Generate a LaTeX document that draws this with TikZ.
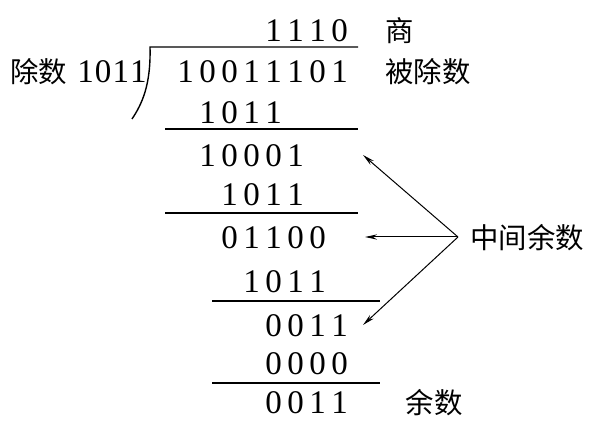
\documentclass[tikz,border=0pt]{standalone}
\usepackage{fontspec}
\setmainfont{Liberation Serif}
\newfontfamily\cjk{Noto Sans CJK SC}
\usetikzlibrary{arrows.meta}
% fixed pitch for the binary digits
\newlength\bitw
\setlength\bitw{11pt}
\newcommand{\bits}[1]{\bitsnext#1\relax}
\newcommand{\bitsnext}[1]{\ifx\relax#1\else\makebox[\bitw][l]{#1}\expandafter\bitsnext\fi}

\begin{document}
\begin{tikzpicture}[x=0.5pt, y=-0.5pt, >={Stealth[length=6pt,width=2.6pt]},
      num/.style={anchor=west, inner sep=0pt, font=\fontsize{16.5}{18}\selectfont},
      lab/.style={inner sep=0pt, font=\fontsize{14.2}{16}\selectfont\cjk},
      rule/.style={line width=0.7pt}]
    \useasboundingbox (0,0) rectangle (599,427);
    % columns: first digit at 177, pitch 22
    \node[num] (quo)  at ({177+4*22},31)  {\bits{1110}};
    \node[num] (dvd)  at (177,72)         {\bits{10011101}};
    \node[num] (sub1) at ({177+1*22},113) {\bits{1011}};
    \node[num] (rem1) at ({177+1*22},156) {\bits{10001}};
    \node[num] (sub2) at ({177+2*22},195) {\bits{1011}};
    \node[num] (rem2) at ({177+2*22},238) {\bits{01100}};
    \node[num] (sub3) at ({177+3*22},282) {\bits{1011}};
    \node[num] (rem3) at ({177+4*22},326) {\bits{0011}};
    \node[num] (sub4) at ({177+4*22},364) {\bits{0000}};
    \node[num] (rem4) at ({177+4*22},403) {\bits{0011}};
    \node[lab] (dsr)  at (39,72)  {除数};
    \node[num] (dsrn) at (77,72)  {\setlength\bitw{8.8pt}\bits{1011}};
    \node[lab] (shang) at (400,31)  {商};
    \node[lab] (bcs)   at (428,72)  {被除数};
    \node[lab] (ys)    at (434,403) {余数};
    \node[lab, anchor=west] (zjys) at (470,238) {中间余数};
    % division sign and rules
    \draw[rule] (358,47) -- (150,47) .. controls (151,85) and (142,104) .. (132,119);
    \draw[rule] (165,129) -- (358,129);
    \draw[rule] (165,213) -- (358,213);
    \draw[rule] (212,301) -- (380,301);
    \draw[rule] (212,383) -- (380,383);
    % arrows to the remainders
    \coordinate (apex) at (458,237);
    \coordinate (t1) at (363,155);
    \coordinate (t2) at (365,237);
    \coordinate (t3) at (363,325);
    \draw[->, line width=0.5pt] (apex) -- (t1);
    \draw[->, line width=0.5pt] (apex) -- (t2);
    \draw[->, line width=0.5pt] (apex) -- (t3);
  \end{tikzpicture}
\end{document}
